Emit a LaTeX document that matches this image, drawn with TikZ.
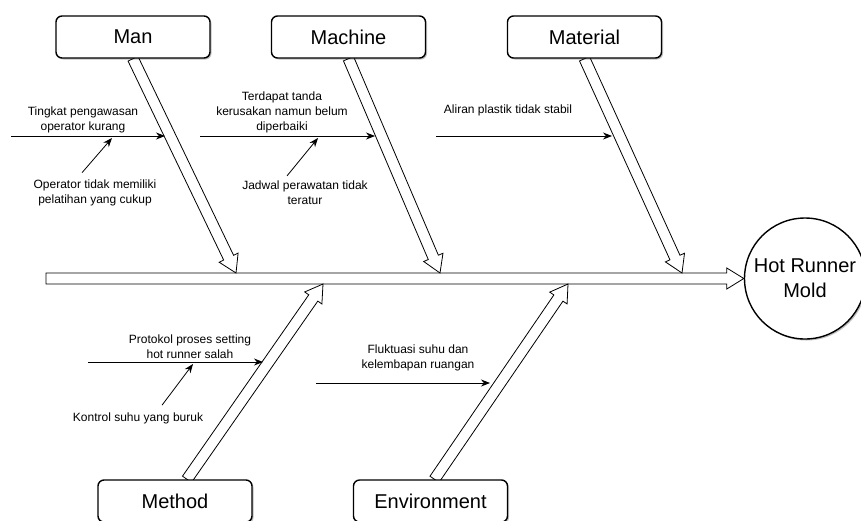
\documentclass[tikz,border=0pt]{standalone}
\usepackage{fontspec}
\setmainfont{Liberation Sans}
\usepackage{tikz}
\usetikzlibrary{calc, arrows.meta, shadows, backgrounds}
\newcommand{\fatarr}[2]{%
  \draw[bone] ($#1!5.5pt!90:#2$) -- ($#2!17pt!#1!5.5pt!-90:#1$) -- ($#2!17pt!#1!10.5pt!-90:#1$)
    -- #2 -- ($#2!17pt!#1!10.5pt!90:#1$) -- ($#2!17pt!#1!5.5pt!90:#1$) -- ($#1!5.5pt!-90:#2$) -- cycle;}
\tikzset{
  bone/.style={draw, fill=white, line width=0.8pt, line join=miter},
  catbox/.style={draw, fill=white, line width=1.4pt, rounded corners=6pt, minimum width=154pt,
    minimum height=42pt, font=\fontsize{20}{24}\selectfont,
    drop shadow={shadow xshift=1.5pt, shadow yshift=-1.5pt, opacity=0.25, fill=black}},
  cause/.style={->, line width=0.8pt},
  txt/.style={inner sep=0pt, align=center, font=\fontsize{12}{15}\selectfont}
}
\begin{document}
\begin{tikzpicture}[x=1pt, y=-1pt, >={Stealth[length=9pt, width=7pt]}]
    \useasboundingbox (0,0) rectangle (861,520);
    \clip (0,0) rectangle (861,520);
    \node[circle, draw, fill=white, line width=1.4pt, minimum size=121pt, inner sep=0pt, align=center,
      font=\fontsize{20}{25}\selectfont,
      drop shadow={shadow xshift=1.5pt, shadow yshift=-1.5pt, opacity=0.25, fill=black}]
      (hot) at (805,278.5) {Hot Runner\\Mold};
    \node[catbox] (man) at (133,37) {Man};
    \node[catbox] (machine) at (348.5,37) {Machine};
    \node[catbox] (material) at (584.5,37) {Material};
    \node[catbox] (method) at (175,501) {Method};
    \node[catbox] (env) at (430.5,501) {Environment};
    \coordinate (tail) at (46,278.5);
    \coordinate (manE) at (236,273);
    \coordinate (macE) at (440,273);
    \coordinate (matE) at (682,273);
    \coordinate (metS) at ([xshift=12pt]method.north);
    \coordinate (metE) at (323,284);
    \coordinate (envS) at ([xshift=4pt]env.north);
    \coordinate (envE) at (568,284);
    \begin{pgfonlayer}{background}
    \fatarr{(tail)}{(hot.west)}
    \fatarr{(man.south)}{(manE)}
    \fatarr{(machine.south)}{(macE)}
    \fatarr{(material.south)}{(matE)}
    \fatarr{(metS)}{(metE)}
    \fatarr{(envS)}{(envE)}
    \end{pgfonlayer}
    \node[txt] (manA) at (83,120) {Tingkat pengawasan\\operator kurang};
    \node[txt] (manB) at (95,193) {Operator tidak memiliki\\pelatihan yang cukup};
    \coordinate (manL) at (11,136);
    \coordinate (manR) at (165,136);
    \coordinate (manM) at (112,138);
    \draw[cause] (manL) -- (manR);
    \draw[cause] ([xshift=-13pt,yshift=7pt]manB.north) -- (manM);
    \node[txt] (macA) at (282,112) {Terdapat tanda\\kerusakan namun belum\\diperbaiki};
    \node[txt] (macB) at (305,193) {Jadwal perawatan tidak\\teratur};
    \coordinate (macL) at (200,136);
    \coordinate (macR) at (375,136);
    \coordinate (macM) at (318,138);
    \draw[cause] (macL) -- (macR);
    \draw[cause] ([xshift=-18pt,yshift=5pt]macB.north) -- (macM);
    \node[txt] (matA) at (508,110) {Aliran plastik tidak stabil};
    \coordinate (matL) at (436,136);
    \coordinate (matR) at (612,136);
    \draw[cause] (matL) -- (matR);
    \node[txt] (metA) at (190,347) {Protokol proses setting\\hot runner salah};
    \node[txt] (metB) at (138,418) {Kontrol suhu yang buruk};
    \coordinate (metL) at (88,362);
    \coordinate (metR) at (263,362);
    \coordinate (metM) at (193,364);
    \draw[cause] (metL) -- (metR);
    \draw[cause] ([xshift=24pt,yshift=7pt]metB.north) -- (metM);
    \node[txt] (envA) at (418,358) {Fluktuasi suhu dan\\kelembapan ruangan};
    \coordinate (envL) at (316,383);
    \coordinate (envR) at (490,383);
    \draw[cause] (envL) -- (envR);
\end{tikzpicture}
\end{document}
